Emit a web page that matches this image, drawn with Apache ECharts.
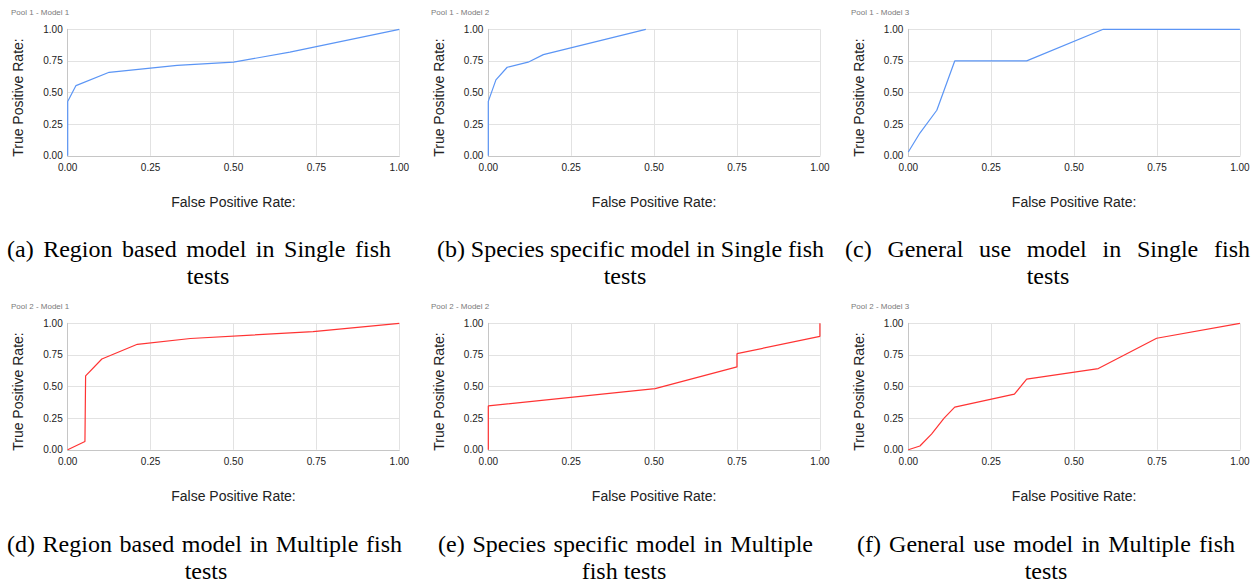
<!DOCTYPE html>
<html>
<head>
<meta charset="utf-8">
<script src="https://cdn.jsdelivr.net/npm/echarts@6/dist/echarts.min.js"></script>
<style>
  html, body { margin: 0; padding: 0; background: #fff; }
  #main { width: 1260px; height: 583px; }
</style>
</head>
<body>
<div id="main"></div>
<script>
// ROC points, [false positive rate, true positive rate]
const pool1Model1 = [[0, 0], [0, 0.43], [0.025, 0.555], [0.125, 0.66], [0.33, 0.715], [0.5, 0.74], [0.67, 0.82], [1, 1]];
const pool1Model2 = [[0, 0], [0, 0.43], [0.023, 0.6], [0.057, 0.7], [0.12, 0.74], [0.166, 0.8], [0.475, 1]];
const pool1Model3 = [[0, 0.03], [0.035, 0.18], [0.086, 0.36], [0.14, 0.75], [0.357, 0.75], [0.588, 1], [1, 1]];
const pool2Model1 = [[0, 0], [0.052, 0.066], [0.054, 0.584], [0.103, 0.718], [0.21, 0.834], [0.37, 0.88], [0.74, 0.934], [1, 1]];
const pool2Model2 = [[0, 0], [0, 0.347], [0.503, 0.484], [0.75, 0.655], [0.75, 0.76], [1, 0.897], [1, 1]];
const pool2Model3 = [[0, 0], [0.035, 0.03], [0.07, 0.124], [0.108, 0.25], [0.14, 0.337], [0.32, 0.44], [0.357, 0.558], [0.573, 0.642], [0.749, 0.882], [1, 1]];

const panelTitles = ['Pool 1 - Model 1', 'Pool 1 - Model 2', 'Pool 1 - Model 3', 'Pool 2 - Model 1', 'Pool 2 - Model 2', 'Pool 2 - Model 3'];
const captionFirst = [
  '(a) Region based model in Single fish',
  '(b) Species specific model in Single fish',
  '(c) General use model in Single fish',
  '(d) Region based model in Multiple fish',
  '(e) Species specific model in Multiple',
  '(f) General use model in Multiple fish'
];
const captionSecond = ['tests', 'tests', 'tests', 'tests', 'fish tests', 'tests'];
const xAxisName = 'False Positive Rate:';
const yAxisName = 'True Positive Rate:';
const axisMin = 0;
const axisMax = 1;
const axisStep = 0.25;

const panelData = [pool1Model1, pool1Model2, pool1Model3, pool2Model1, pool2Model2, pool2Model3];
const panelColors = ['#5b95f5', '#5b95f5', '#5b95f5', '#ff3333', '#ff3333', '#ff3333'];

// layout
const colLeft = [67.7, 488.3, 908.3];
const rowTop = [29.3, 323.3];
const plotW = 331.6;
const plotH = 126.5;
const titleX = [11, 431, 851];
const titleY = [12.5, 306.5];
const capFirstSpan = [[7, 391], [437, 824], [845, 1250], [7, 402], [438, 813], [857, 1235]];
const capSecondCenter = [208, 625, 1048, 206, 624, 1046];
const capY = [[248.5, 276], [543.5, 571]];
const capFont = '24px "Liberation Serif", "Times New Roman", serif';
const sansFont = '"Liberation Sans", Arial, sans-serif';

const measureCtx = document.createElement('canvas').getContext('2d');
measureCtx.font = capFont;

// LaTeX-style justified first caption line
function justifiedLine(line, x0, x1, y) {
  const words = line.split(' ');
  const widths = words.map((w) => measureCtx.measureText(w).width);
  const total = widths.reduce((a, b) => a + b, 0);
  const gap = words.length > 1 ? (x1 - x0 - total) / (words.length - 1) : 0;
  let x = x0;
  return words.map((w, i) => {
    const el = {
      type: 'text',
      x,
      y,
      style: { text: w, font: capFont, fill: '#000', align: 'left', verticalAlign: 'middle', textAlign: 'left', textVerticalAlign: 'middle' }
    };
    x += widths[i] + gap;
    return el;
  });
}

const grids = [];
const xAxes = [];
const yAxes = [];
const series = [];
const graphics = [];

panelData.forEach((data, i) => {
  const col = i % 3;
  const row = Math.floor(i / 3);
  grids.push({ left: colLeft[col], top: rowTop[row], width: plotW, height: plotH, outerBoundsMode: 'none' });
  const common = {
    type: 'value',
    gridIndex: i,
    min: axisMin,
    max: axisMax,
    interval: axisStep,
    axisTick: { show: false },
    axisLine: { show: true, lineStyle: { color: '#c6c6c6', width: 1 } },
    axisLabel: {
      fontFamily: sansFont,
      fontSize: 10,
      color: '#222',
      formatter: (v) => v.toFixed(2)
    },
    splitLine: { show: true, lineStyle: { color: '#e2e2e2', width: 1 } }
  };
  xAxes.push(Object.assign({}, common, {
    name: xAxisName,
    nameLocation: 'middle',
    nameGap: 39,
    nameTextStyle: { fontFamily: sansFont, fontSize: 14, color: '#222' },
    axisLabel: Object.assign({}, common.axisLabel, { margin: 7 })
  }));
  yAxes.push(Object.assign({}, common, {
    axisLabel: Object.assign({}, common.axisLabel, { margin: 5 })
  }));
  series.push({
    type: 'line',
    xAxisIndex: i,
    yAxisIndex: i,
    data,
    showSymbol: false,
    symbol: 'none',
    clip: false,
    lineStyle: { color: panelColors[i], width: 1.2 }
  });
  // y axis title sits a little below the plot middle, as in the source
  graphics.push({
    type: 'text',
    x: colLeft[col] - 49.5,
    y: rowTop[row] + plotH / 2 + 5,
    rotation: Math.PI / 2,
    style: { text: yAxisName, font: '14px ' + sansFont, fill: '#222', align: 'center', verticalAlign: 'middle', textAlign: 'center', textVerticalAlign: 'middle' }
  });
  graphics.push({
    type: 'text',
    x: titleX[col],
    y: titleY[row],
    style: { text: panelTitles[i], font: '8px ' + sansFont, fill: '#7a7a7a', verticalAlign: 'middle', textVerticalAlign: 'middle' }
  });
  const span = capFirstSpan[i];
  graphics.push(...justifiedLine(captionFirst[i], span[0], span[1], capY[row][0]));
  graphics.push({
    type: 'text',
    x: capSecondCenter[i],
    y: capY[row][1],
    style: { text: captionSecond[i], font: capFont, fill: '#000', align: 'center', verticalAlign: 'middle', textAlign: 'center', textVerticalAlign: 'middle' }
  });
});

const chart = echarts.init(document.getElementById('main'), null, { renderer: 'svg' });
chart.setOption({
  animation: false,
  backgroundColor: '#fff',
  grid: grids,
  xAxis: xAxes,
  yAxis: yAxes,
  series,
  graphic: graphics
});
</script>
</body>
</html>
